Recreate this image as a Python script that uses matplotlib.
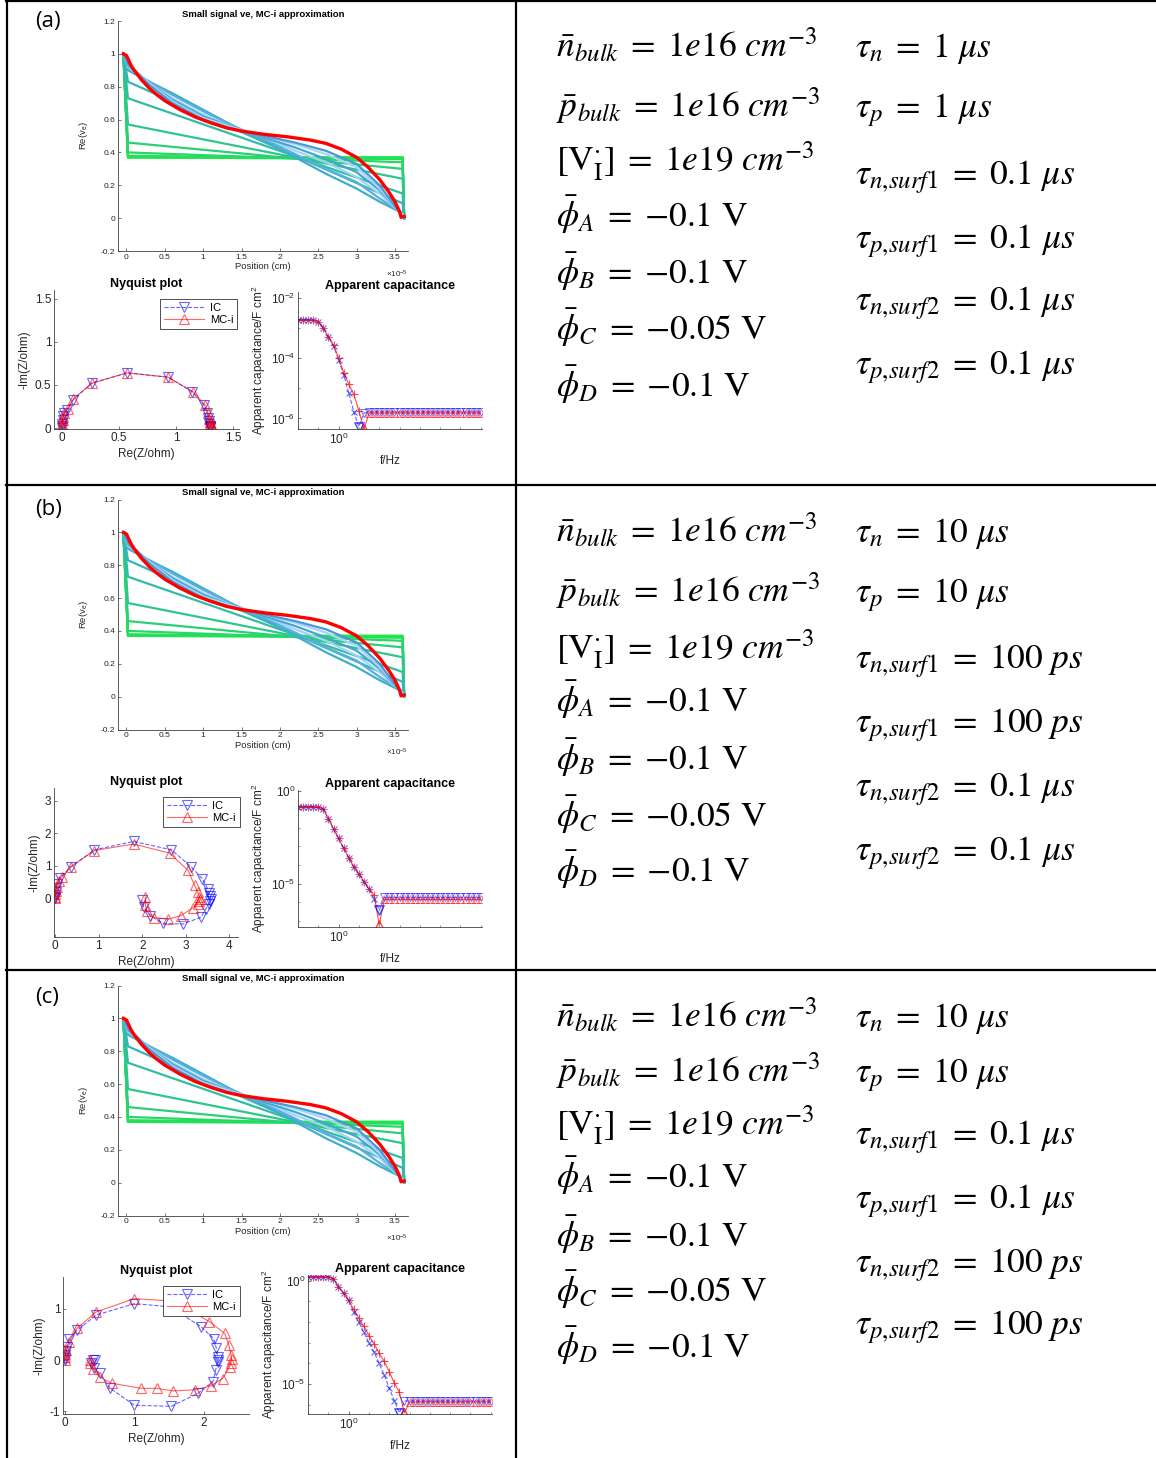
import numpy as np
import matplotlib.pyplot as plt
from matplotlib.lines import Line2D
from matplotlib.ticker import FixedLocator, NullFormatter

plt.rcParams['font.family'] = ['Liberation Sans', 'DejaVu Sans']
plt.rcParams['mathtext.fontset'] = 'custom'
plt.rcParams['mathtext.rm'] = 'Liberation Sans'
plt.rcParams['mathtext.it'] = 'Liberation Sans:italic'
plt.rcParams['mathtext.bf'] = 'Liberation Sans:bold'

# ---------------- data ----------------
# potential profile (position in 1e-5 cm), same in all three rows
green_left = [0.37, 0.37, 0.37, 0.38, 0.40, 0.46, 0.57, 0.73, 0.83]
green_right = [0.37, 0.37, 0.36, 0.36, 0.34, 0.30, 0.24, 0.15, 0.09]
bulk_pos = [0.02, 0.3, 0.6, 1.0, 1.4, 1.8, 2.2, 2.6, 3.0, 3.3, 3.6]
bulk_curves = [
    [0.90, 0.83, 0.76, 0.66, 0.56, 0.47, 0.37, 0.27, 0.18, 0.10, 0.03],
    [0.91, 0.83, 0.75, 0.65, 0.56, 0.48, 0.39, 0.30, 0.22, 0.12, 0.03],
    [0.92, 0.82, 0.73, 0.63, 0.55, 0.49, 0.41, 0.34, 0.25, 0.15, 0.02],
    [0.93, 0.82, 0.72, 0.62, 0.55, 0.49, 0.43, 0.36, 0.28, 0.17, 0.02],
    [0.94, 0.82, 0.71, 0.61, 0.55, 0.50, 0.45, 0.39, 0.31, 0.18, 0.02],
    [0.94, 0.81, 0.70, 0.60, 0.54, 0.50, 0.46, 0.41, 0.33, 0.20, 0.01],
]
red_pos = [-0.04, 0.0, 0.03, 0.06, 0.1, 0.2, 0.3, 0.4, 0.5, 0.7, 0.9, 1.1, 1.3, 1.5, 1.8,
           2.1, 2.4, 2.6, 2.8, 3.0, 3.15, 3.3, 3.42, 3.5, 3.56, 3.58, 3.62]
red_val = [1.0, 0.99, 0.96, 0.93, 0.9, 0.84, 0.79, 0.75, 0.715, 0.66, 0.615, 0.58, 0.55, 0.53, 0.51,
           0.495, 0.475, 0.455, 0.42, 0.37, 0.31, 0.235, 0.16, 0.1, 0.04, 0.005, 0.01]

# Nyquist data: Re(Z) and -Im(Z)
nyq_a_ic_re = [0.0, 0.0, 0.0, 0.005, 0.01, 0.02, 0.04, 0.1, 0.26, 0.57, 0.93, 1.14, 1.24, 1.27, 1.28, 1.29, 1.29, 1.3, 1.3, 1.3, 1.3]
nyq_a_ic_im = [0.0, 0.02, 0.05, 0.09, 0.14, 0.18, 0.21, 0.33, 0.52, 0.64, 0.59, 0.42, 0.27, 0.18, 0.12, 0.08, 0.05, 0.03, 0.02, 0.01, 0.0]
nyq_a_mc_re = [0.0, 0.0, 0.0, 0.005, 0.01, 0.02, 0.05, 0.1, 0.26, 0.57, 0.93, 1.15, 1.25, 1.28, 1.29, 1.3, 1.3, 1.3, 1.31, 1.31, 1.31]
nyq_a_mc_im = [0.0, 0.02, 0.05, 0.09, 0.13, 0.17, 0.22, 0.34, 0.52, 0.64, 0.59, 0.42, 0.27, 0.17, 0.11, 0.07, 0.05, 0.03, 0.02, 0.01, 0.0]

nyq_b_ic_re = [0.0, 0.0, 0.0, 0.01, 0.02, 0.04, 0.1, 0.36, 0.9, 1.8, 2.67, 3.12, 3.38, 3.5, 3.53, 3.56, 3.57, 3.55, 3.53, 3.46, 3.35, 2.93, 2.48, 2.18, 2.03, 1.99]
nyq_b_ic_im = [0.0, 0.05, 0.1, 0.2, 0.3, 0.45, 0.62, 0.97, 1.49, 1.75, 1.49, 0.97, 0.6, 0.29, 0.15, 0.06, -0.02, -0.1, -0.18, -0.33, -0.59, -0.8, -0.78, -0.54, -0.28, -0.07]
nyq_b_mc_re = [0.0, 0.0, 0.0, 0.01, 0.03, 0.08, 0.15, 0.36, 0.9, 1.8, 2.63, 3.05, 3.2, 3.27, 3.31, 3.33, 3.31, 3.27, 3.16, 2.89, 2.59, 2.26, 2.1, 2.07, 2.07]
nyq_b_mc_im = [0.0, 0.05, 0.12, 0.22, 0.35, 0.52, 0.65, 0.97, 1.47, 1.67, 1.39, 0.86, 0.4, 0.19, 0.05, -0.03, -0.1, -0.18, -0.3, -0.54, -0.65, -0.6, -0.4, -0.2, 0.03]

nyq_c_ic_re = [0.0, 0.0, 0.005, 0.01, 0.03, 0.06, 0.17, 0.45, 1.0, 1.51, 1.96, 2.14, 2.18, 2.2, 2.21, 2.2, 2.17, 2.13, 1.91, 1.53, 1.0, 0.65, 0.5, 0.41, 0.38, 0.4, 0.43]
nyq_c_ic_im = [0.0, 0.05, 0.1, 0.17, 0.26, 0.42, 0.58, 0.88, 1.1, 1.04, 0.65, 0.42, 0.23, 0.06, 0.0, -0.03, -0.19, -0.42, -0.65, -0.9, -0.88, -0.55, -0.26, -0.16, -0.05, 0.0, 0.01]
nyq_c_mc_re = [0.0, 0.0, 0.005, 0.02, 0.06, 0.17, 0.45, 1.0, 1.55, 2.08, 2.3, 2.36, 2.39, 2.4, 2.39, 2.37, 2.27, 2.1, 1.87, 1.56, 1.32, 1.1, 0.67, 0.5, 0.4, 0.36, 0.36]
nyq_c_mc_im = [0.0, 0.06, 0.12, 0.19, 0.36, 0.62, 0.94, 1.2, 1.15, 0.75, 0.52, 0.29, 0.1, 0.03, -0.05, -0.13, -0.36, -0.5, -0.58, -0.6, -0.55, -0.55, -0.45, -0.33, -0.18, -0.05, 0.0]

# apparent capacitance: log10(f/Hz) and log10(C / F cm^-2)
cap_logf = [-2.0, -1.75, -1.5, -1.25, -1.0, -0.75, -0.5, -0.25, 0.0, 0.25, 0.5, 0.75,
            1.0, 1.25, 1.5, 1.75, 2.0, 2.25, 2.5, 2.75, 3.0, 3.25, 3.5, 3.75,
            4.0, 4.25, 4.5, 4.75, 5.0, 5.25, 5.5, 5.75, 6.0, 6.25, 6.5, 6.75, 7.0]
cap_a_ic = [-2.72, -2.72, -2.72, -2.73, -2.78, -3.0, -3.3, -3.6, -4.05, -4.55, -5.15, -5.78,
            -6.27, -5.82, -5.78, -5.78, -5.78, -5.78, -5.78, -5.78, -5.78, -5.78, -5.78, -5.78,
            -5.78, -5.78, -5.78, -5.78, -5.78, -5.78, -5.78, -5.78, -5.78, -5.78, -5.78, -5.78, -5.78]
cap_a_mc = [-2.72, -2.72, -2.72, -2.73, -2.78, -3.0, -3.3, -3.55, -3.99, -4.48, -4.87, -5.2,
            -5.75, -6.36, -5.82, -5.82, -5.82, -5.82, -5.82, -5.82, -5.82, -5.82, -5.82, -5.82,
            -5.82, -5.82, -5.82, -5.82, -5.82, -5.82, -5.82, -5.82, -5.82, -5.82, -5.82, -5.82, -5.82]
cap_b_ic = [-0.86, -0.86, -0.86, -0.86, -0.88, -1.0, -1.5, -2.05, -2.57, -3.1, -3.6, -4.1,
            -4.5, -4.9, -5.3, -5.85, -6.44, -5.75, -5.75, -5.75, -5.75, -5.75, -5.75, -5.75,
            -5.75, -5.75, -5.75, -5.75, -5.75, -5.75, -5.75, -5.75, -5.75, -5.75, -5.75, -5.75, -5.75]
cap_b_mc = [-0.86, -0.86, -0.86, -0.86, -0.88, -1.0, -1.5, -2.05, -2.57, -3.1, -3.6, -4.1,
            -4.5, -4.9, -5.3, -5.63, -7.25, -5.85, -5.85, -5.85, -5.85, -5.85, -5.85, -5.85,
            -5.85, -5.85, -5.85, -5.85, -5.85, -5.85, -5.85, -5.85, -5.85, -5.85, -5.85, -5.85, -5.85]
cap_c_ic = [0.19, 0.19, 0.19, 0.19, 0.19, 0.1, -0.28, -0.6, -0.95, -1.5, -2.0, -2.5,
            -3.0, -3.45, -4.0, -4.55, -5.2, -5.8, -6.39, -5.82, -5.82, -5.82, -5.82, -5.82,
            -5.82, -5.82, -5.82, -5.82, -5.82, -5.82, -5.82, -5.82, -5.82, -5.82, -5.82, -5.82, -5.82]
cap_c_mc = [0.19, 0.19, 0.19, 0.19, 0.19, 0.1, -0.28, -0.6, -0.95, -1.38, -1.8, -2.2,
            -2.65, -3.05, -3.5, -3.9, -4.4, -4.95, -5.4, -6.39, -5.87, -5.87, -5.87, -5.87,
            -5.87, -5.87, -5.87, -5.87, -5.87, -5.87, -5.87, -5.87, -5.87, -5.87, -5.87, -5.87, -5.87]

# parameter text
params_left = [
    [r'$\bar{n}_{bulk}\;=\;1e16\ cm^{-3}$', r'$\bar{p}_{bulk}\;=\;1e16\ cm^{-3}$',
     r'$[\mathrm{V}_{\mathrm{I}}^{\cdot}]\;=\;1e19\ cm^{-3}$', r'$\bar{\phi}_{A}\;=\;{-}0.1\ \mathrm{V}$',
     r'$\bar{\phi}_{B}\;=\;{-}0.1\ \mathrm{V}$', r'$\bar{\phi}_{C}\;=\;{-}0.05\ \mathrm{V}$',
     r'$\bar{\phi}_{D}\;=\;{-}0.1\ \mathrm{V}$'],
] * 3
params_right = [
    [r'$\tau_{n}\;=\;1\ \mu s$', r'$\tau_{p}\;=\;1\ \mu s$', r'$\tau_{n{,}surf1}\;=\;0.1\ \mu s$',
     r'$\tau_{p{,}surf1}\;=\;0.1\ \mu s$', r'$\tau_{n{,}surf2}\;=\;0.1\ \mu s$', r'$\tau_{p{,}surf2}\;=\;0.1\ \mu s$'],
    [r'$\tau_{n}\;=\;10\ \mu s$', r'$\tau_{p}\;=\;10\ \mu s$', r'$\tau_{n{,}surf1}\;=\;100\ ps$',
     r'$\tau_{p{,}surf1}\;=\;100\ ps$', r'$\tau_{n{,}surf2}\;=\;0.1\ \mu s$', r'$\tau_{p{,}surf2}\;=\;0.1\ \mu s$'],
    [r'$\tau_{n}\;=\;10\ \mu s$', r'$\tau_{p}\;=\;10\ \mu s$', r'$\tau_{n{,}surf1}\;=\;0.1\ \mu s$',
     r'$\tau_{p{,}surf1}\;=\;0.1\ \mu s$', r'$\tau_{n{,}surf2}\;=\;100\ ps$', r'$\tau_{p{,}surf2}\;=\;100\ ps$'],
]
panel_labels = ['(a)', '(b)', '(c)']

# ---------------- layout (pixels) ----------------
W, H = 1156, 1458
fig = plt.figure(figsize=(W / 100, H / 100), dpi=100)
fig.patch.set_facecolor('white')


def px_axes(left, top, right, bottom):
    return fig.add_axes([left / W, 1 - bottom / H, (right - left) / W, (bottom - top) / H])


def matlab_look(ax, fs):
    for s in ['top', 'right']:
        ax.spines[s].set_visible(False)
    for s in ['left', 'bottom']:
        ax.spines[s].set_color('0.25')
        ax.spines[s].set_linewidth(0.6)
    ax.tick_params(direction='in', length=2.5, width=0.5, color='0.25',
                   labelcolor='0.15', labelsize=fs, pad=2)
    ax.tick_params(which='minor', direction='in', length=1.5, width=0.4, color='0.25')


green_cols = ['#1ee84a', '#1ee84a', '#22e450', '#26de5a', '#28d866', '#2bd076', '#2ec68c', '#32bca6', '#36b4b8']
blue_cols = ['#3cb0c8', '#5aaee0', '#a2d4f2', '#44a6d4', '#a8d6f4', '#4a98d8']


def draw_profile(ax):
    for L, R, c in zip(green_left, green_right, green_cols):
        ax.plot([-0.04, 0.02, 3.6, 3.62], [1.0, L, R, 0.0], color=c, lw=1.6)
    for vals, c in zip(bulk_curves, blue_cols):
        ax.plot([-0.04] + bulk_pos + [3.62], [1.0] + vals + [0.0], color=c, lw=1.6)
    ax.plot(red_pos, red_val, color='red', lw=2.4)
    ax.set_xlim(-0.11, 3.67)
    ax.set_ylim(-0.2, 1.2)
    ax.set_xticks([0, 0.5, 1, 1.5, 2, 2.5, 3, 3.5])
    ax.set_xticklabels(['0', '0.5', '1', '1.5', '2', '2.5', '3', '3.5'])
    ax.set_yticks([-0.2, 0, 0.2, 0.4, 0.6, 0.8, 1, 1.2])
    ax.set_yticklabels(['-0.2', '0', '0.2', '0.4', '0.6', '0.8', '1', '1.2'])
    matlab_look(ax, 6)
    ax.set_title('Small signal ve, MC-i approximation', fontsize=6.8, fontweight='bold', pad=3)
    ax.set_xlabel('Position (cm)', fontsize=6.8, labelpad=1, color='0.15')
    ax.set_ylabel(r'Re(v$_{\mathrm{e}}$)', fontsize=6.8, labelpad=8, color='0.15')
    ax.text(1.0, -0.075, r'$\times 10^{-5}$', transform=ax.transAxes, fontsize=5.8,
            ha='right', va='top', color='0.15')


def draw_nyquist(ax, ic_re, ic_im, mc_re, mc_im, xlim, ylim, xt, yt, xtl, ytl, leg_x):
    ax.plot(ic_re, ic_im, '--', color='blue', marker='v', ms=7, mfc='none', mew=0.8,
            lw=0.8, alpha=0.6, label='IC')
    ax.plot(mc_re, mc_im, '-', color='red', marker='^', ms=7, mfc='none', mew=0.8,
            lw=0.8, alpha=0.6, label='MC-i')
    ax.set_xlim(*xlim)
    ax.set_ylim(*ylim)
    ax.set_xticks(xt)
    ax.set_xticklabels(xtl)
    ax.set_yticks(yt)
    ax.set_yticklabels(ytl)
    matlab_look(ax, 8.5)
    ax.set_title('Nyquist plot', fontsize=9, fontweight='bold', pad=2)
    ax.set_xlabel('Re(Z/ohm)', fontsize=8.5, labelpad=3, color='0.15')
    ax.set_ylabel('-Im(Z/ohm)', fontsize=8.5, labelpad=3, color='0.15')
    h = ax.get_position().height * H
    leg = ax.legend(loc='upper right', bbox_to_anchor=(leg_x, 1 - 9 / h), fontsize=8,
                    handlelength=3.6, frameon=True, fancybox=False, borderpad=0.35,
                    labelspacing=0.2, handletextpad=0.5, borderaxespad=0, framealpha=1)
    leg.get_frame().set_edgecolor('0.2')
    leg.get_frame().set_linewidth(0.6)


def draw_cap(ax, ic, mc, ylog, ymajor):
    f = 10.0 ** np.array(cap_logf)
    ic = 10.0 ** np.array(ic)
    mc = 10.0 ** np.array(mc)
    i = int(np.argmin(ic))
    j = int(np.argmin(mc))
    ax.plot(f, ic, '--', color='blue', lw=0.8, alpha=0.6)
    ax.plot(f, mc, '-', color='red', lw=0.8, alpha=0.7)
    ax.plot(f[:i], ic[:i], 'x', color='blue', ms=4.5, mew=0.8, alpha=0.6)
    ax.plot(f[:j], mc[:j], '+', color='red', ms=6, mew=0.8, alpha=0.7)
    ax.plot(f[i:], ic[i:], 'v', color='blue', ms=5.5, mfc='none', mew=0.7, alpha=0.55)
    ax.plot(f[j:], mc[j:], '^', color='red', ms=5.5, mfc='none', mew=0.7, alpha=0.55)
    ax.plot(f[i], ic[i], 'v', color='blue', ms=7.5, mfc='none', mew=0.8, alpha=0.6)
    ax.plot(f[j], mc[j], '^', color='red', ms=7.5, mfc='none', mew=0.8, alpha=0.6)
    ax.set_xscale('log')
    ax.set_yscale('log')
    ax.set_xlim(1e-2, 10 ** 7.06)
    ax.set_ylim(10 ** ylog[0], 10 ** ylog[1])
    ax.xaxis.set_major_locator(FixedLocator([1.0]))
    ax.xaxis.set_minor_locator(FixedLocator([10.0 ** k for k in range(-2, 8)]))
    ax.xaxis.set_minor_formatter(NullFormatter())
    ax.set_xticklabels([r'$10^{0}$'])
    ax.yaxis.set_major_locator(FixedLocator([10.0 ** k for k in ymajor]))
    ax.yaxis.set_minor_locator(FixedLocator([10.0 ** k for k in range(-8, 1)]))
    ax.yaxis.set_minor_formatter(NullFormatter())
    ax.set_yticklabels([r'$10^{%d}$' % k for k in ymajor])
    matlab_look(ax, 8.5)
    ax.set_title('Apparent capacitance', fontsize=9, fontweight='bold', pad=2)
    ax.set_xlabel('f/Hz', fontsize=8.5, labelpad=6, color='0.15')
    ax.set_ylabel(r'Apparent capacitance/F cm$^2$', fontsize=8.5, labelpad=2, color='0.15')


# row offsets
row_dy = [0, 478.5, 964.5]

for r in range(3):
    ax = px_axes(118, 21 + row_dy[r], 408, 251 + row_dy[r])
    draw_profile(ax)

axn = px_axes(54, 290, 239, 429)
draw_nyquist(axn, nyq_a_ic_re, nyq_a_ic_im, nyq_a_mc_re, nyq_a_mc_im,
             (-0.07, 1.55), (-0.01, 1.6), [0, 0.5, 1, 1.5], [0, 0.5, 1, 1.5],
             ['0', '0.5', '1', '1.5'], ['0', '0.5', '1', '1.5'], 0.99)
axn = px_axes(54, 788, 238, 937)
draw_nyquist(axn, nyq_b_ic_re, nyq_b_ic_im, nyq_b_mc_re, nyq_b_mc_im,
             (-0.03, 4.2), (-1.2, 3.4), [0, 1, 2, 3, 4], [0, 1, 2, 3],
             ['0', '1', '2', '3', '4'], ['0', '1', '2', '3'], 1.01)
axn = px_axes(63, 1277, 249, 1414)
draw_nyquist(axn, nyq_c_ic_re, nyq_c_ic_im, nyq_c_mc_re, nyq_c_mc_im,
             (-0.03, 2.65), (-1.05, 1.62), [0, 1, 2], [-1, 0, 1],
             ['0', '1', '2'], ['-1', '0', '1'], 0.95)

axc = px_axes(298, 292, 482, 429)
draw_cap(axc, cap_a_ic, cap_a_mc, (-6.35, -1.8), [-6, -4, -2])
axc = px_axes(298, 790, 482, 927)
draw_cap(axc, cap_b_ic, cap_b_mc, (-7.34, 0.04), [-5, 0])
axc = px_axes(308, 1275, 492, 1414)
draw_cap(axc, cap_c_ic, cap_c_mc, (-6.45, 0.28), [-5, 0])


# table grid
def hline(y, x0, x1):
    fig.add_artist(Line2D([x0 / W, x1 / W], [1 - y / H, 1 - y / H], color='black', lw=1.6))


def vline(x, y0, y1):
    fig.add_artist(Line2D([x / W, x / W], [1 - y0 / H, 1 - y1 / H], color='black', lw=1.6))


hline(1, 6, W)
hline(485, 6, W)
hline(970, 6, W)
vline(7, 0, H)
vline(516, 0, H)

# panel labels
label_y = [22, 509, 998]
for r in range(3):
    fig.text(35 / W, 1 - label_y[r] / H, panel_labels[r], fontsize=16, va='center', ha='left',
             family=['Open Sans', 'DejaVu Sans'])

# parameter text
left_y = [[45, 105, 160, 215, 272, 328, 385],
          [530, 590, 648, 700, 758, 815, 870],
          [1015, 1070, 1124, 1176, 1235, 1290, 1346]]
right_y = [[45, 105, 172, 236, 298, 362],
           [530, 590, 656, 720, 784, 848],
           [1015, 1070, 1132, 1196, 1260, 1322]]
for r in range(3):
    for s, y in zip(params_left[r], left_y[r]):
        fig.text(556 / W, 1 - (y + 12) / H, s, fontsize=25.5, math_fontfamily='stix',
                 va='baseline', ha='left')
    for s, y in zip(params_right[r], right_y[r]):
        fig.text(855 / W, 1 - (y + 12) / H, s, fontsize=25.5, math_fontfamily='stix',
                 va='baseline', ha='left')

fig.savefig('out.png', dpi=100, facecolor='white')
